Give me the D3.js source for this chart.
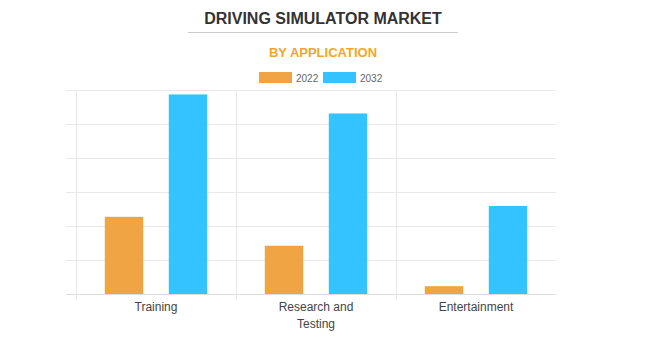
<!DOCTYPE html>
<html>
<head>
<meta charset="utf-8">
<script src="https://cdn.jsdelivr.net/npm/d3@7"></script>
<style>
  body { margin: 0; background: #fff; }
  text { font-family: "Liberation Sans", Arial, sans-serif; }
</style>
</head>
<body>
<svg id="chart" width="651" height="352"></svg>
<script>
// data (axis has no labels, so units are relative)
var categories = [["Training"], ["Research and", "Testing"], ["Entertainment"]];
var years = ["2022", "2032"];
var values2022 = [2.27, 1.42, 0.23];
var values2032 = [5.87, 5.31, 2.59];
var yTicks = [0, 1, 2, 3, 4, 5, 6];

var colors = { "2022": "#f0a444", "2032": "#33c4ff" };

var svg = d3.select("#chart");
var plotLeft = 76, plotRight = 556, plotTop = 90, plotBottom = 294;

var xScale = d3.scaleBand().domain(d3.range(categories.length)).range([plotLeft, plotRight]);
var inner = d3.scaleBand().domain(years).range([0, xScale.bandwidth() * 0.8]);
var yScale = d3.scaleLinear().domain([0, 6]).range([plotBottom, plotTop]);

// title
svg.append("text")
    .attr("x", 323).attr("y", 24)
    .attr("text-anchor", "middle")
    .attr("font-size", 16).attr("font-weight", "bold")
    .attr("fill", "#333")
    .text("DRIVING SIMULATOR MARKET");
svg.append("line")
    .attr("x1", 188).attr("x2", 458)
    .attr("y1", 32.5).attr("y2", 32.5)
    .attr("stroke", "#ccc");
svg.append("text")
    .attr("x", 323).attr("y", 57)
    .attr("text-anchor", "middle")
    .attr("font-size", 13).attr("font-weight", "bold")
    .attr("fill", "#f5a623")
    .text("BY APPLICATION");

// legend
var legend = svg.append("g").selectAll("g")
    .data(years).enter().append("g")
    .attr("transform", function(d, i) { return "translate(" + (259 + i * 64) + ",72)"; });
legend.append("rect")
    .attr("width", 33).attr("height", 11)
    .attr("fill", function(d) { return colors[d]; });
legend.append("text")
    .attr("x", 37).attr("y", 9.5)
    .attr("font-size", 10).attr("fill", "#666")
    .text(function(d) { return d; });

// grid
svg.append("g").selectAll("line")
    .data(yTicks).enter().append("line")
    .attr("x1", plotLeft - 10).attr("x2", plotRight)
    .attr("y1", function(d) { return Math.round(yScale(d)) + 0.5; })
    .attr("y2", function(d) { return Math.round(yScale(d)) + 0.5; })
    .attr("stroke", function(d) { return d === 0 ? "#ddd" : "#e8e8e8"; });

svg.append("g").selectAll("line")
    .data(d3.range(categories.length)).enter().append("line")
    .attr("x1", function(d) { return xScale(d) + 0.5; })
    .attr("x2", function(d) { return xScale(d) + 0.5; })
    .attr("y1", plotTop).attr("y2", plotBottom + 6)
    .attr("stroke", "#e8e8e8");

// bars
var series = [values2022, values2032];
years.forEach(function(y, s) {
    svg.append("g").selectAll("rect")
        .data(series[s]).enter().append("rect")
        .attr("x", function(d, i) {
            return xScale(i) + xScale.bandwidth() * 0.1 + inner(y) + inner.bandwidth() * 0.2;
        })
        .attr("width", inner.bandwidth() * 0.6)
        .attr("y", function(d) { return yScale(d); })
        .attr("height", function(d) { return plotBottom - yScale(d); })
        .attr("fill", colors[y]);
});

// category labels
var labels = svg.append("g").selectAll("text")
    .data(categories).enter().append("text")
    .attr("text-anchor", "middle")
    .attr("font-size", 12).attr("fill", "#444")
    .attr("x", function(d, i) { return xScale(i) + xScale.bandwidth() / 2; })
    .attr("y", 311);
labels.selectAll("tspan")
    .data(function(d) { return d; }).enter().append("tspan")
    .attr("x", function() { return d3.select(this.parentNode).attr("x"); })
    .attr("dy", function(d, i) { return i === 0 ? 0 : 17; })
    .text(function(d) { return d; });
</script>
</body>
</html>
